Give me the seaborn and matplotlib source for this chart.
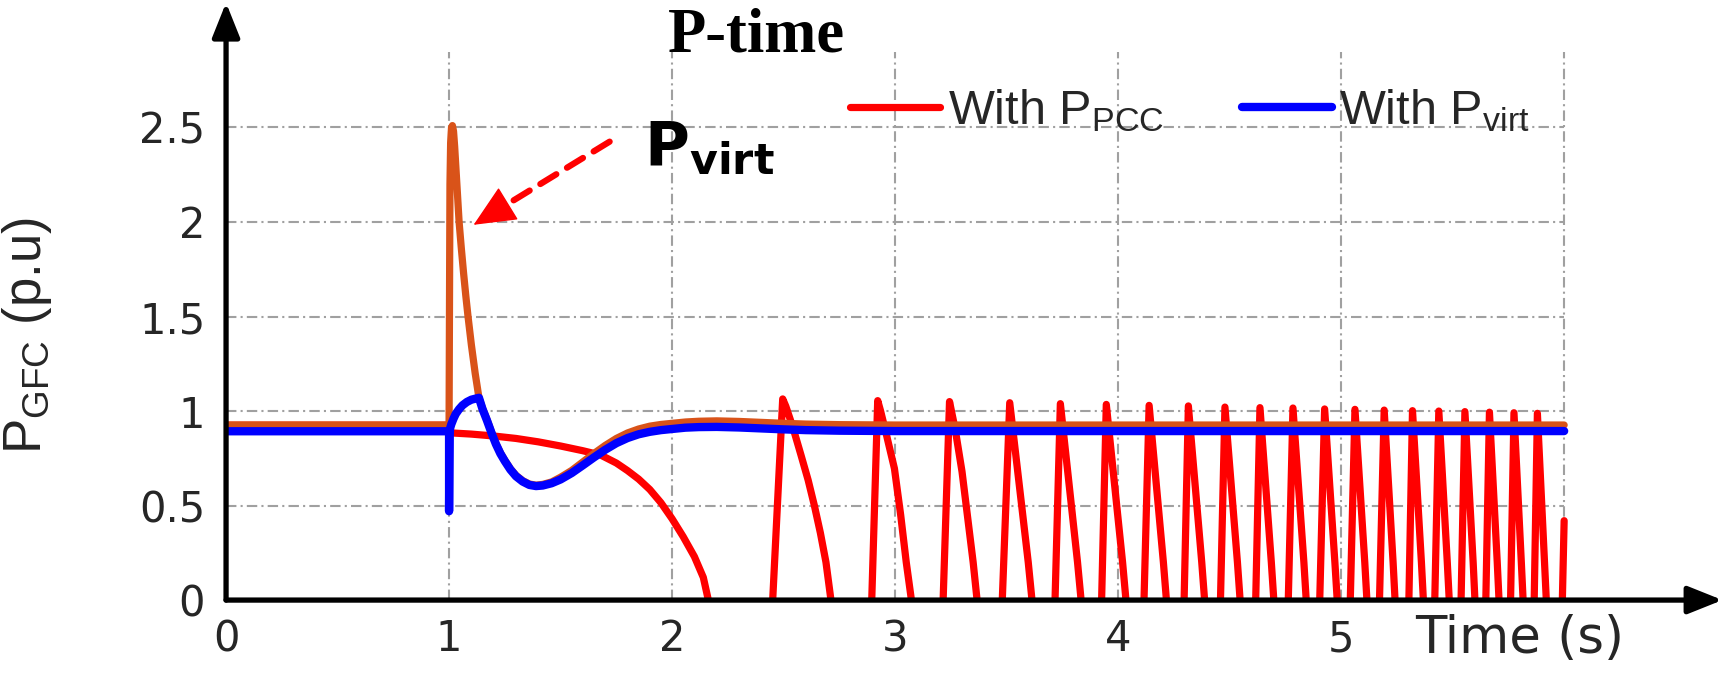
import matplotlib
matplotlib.use("Agg")
import matplotlib.pyplot as plt
import seaborn as sns

# P_GFC with P_PCC feedback (red); -0.05 = trough hidden under the time axis
red_time = [0, 1.0, 1.0, 1.1, 1.2, 1.3, 1.4, 1.5, 1.6, 1.68, 1.75, 1.8, 1.85, 1.9, 1.95,
            2.0, 2.05, 2.1, 2.14, 2.172,
            2.449, 2.496, 2.51, 2.53, 2.55, 2.578, 2.61, 2.638, 2.665, 2.69, 2.718,
            2.894, 2.922, 2.935, 2.96, 2.997, 3.025, 3.05, 3.079,
            3.214, 3.244, 3.27, 3.30, 3.35, 3.372,
            3.479, 3.514, 3.597, 3.618,
            3.716, 3.741, 3.818, 3.838,
            3.925, 3.947, 4.020, 4.039,
            4.115, 4.139, 4.203, 4.220,
            4.295, 4.315, 4.375, 4.391,
            4.458, 4.479, 4.535, 4.550,
            4.616, 4.636, 4.687, 4.701,
            4.762, 4.784, 4.833, 4.846,
            4.903, 4.926, 4.972, 4.985,
            5.040, 5.062, 5.106, 5.118,
            5.171, 5.193, 5.233, 5.244,
            5.303, 5.32, 5.36, 5.371,
            5.419, 5.438, 5.476, 5.487,
            5.537, 5.555, 5.592, 5.602,
            5.648, 5.665, 5.700, 5.710,
            5.759, 5.775, 5.808, 5.818,
            5.865, 5.88, 5.912, 5.922,
            5.991, 6.0]
red_p = [0.925, 0.925, 0.885, 0.878, 0.868, 0.855, 0.837, 0.815, 0.79, 0.767, 0.725, 0.685, 0.64, 0.585, 0.515,
         0.43, 0.335, 0.23, 0.12, -0.05,
         -0.05, 1.064, 1.025, 0.955, 0.88, 0.767, 0.635, 0.5, 0.355, 0.2, -0.05,
         -0.05, 1.055, 1.0, 0.88, 0.696, 0.45, 0.2, -0.05,
         -0.05, 1.05, 0.9, 0.68, 0.2, -0.05,
         -0.05, 1.044, 0.2, -0.05,
         -0.05, 1.039, 0.2, -0.05,
         -0.05, 1.035, 0.2, -0.05,
         -0.05, 1.03, 0.2, -0.05,
         -0.05, 1.027, 0.2, -0.05,
         -0.05, 1.021, 0.2, -0.05,
         -0.05, 1.018, 0.2, -0.05,
         -0.05, 1.016, 0.2, -0.05,
         -0.05, 1.011, 0.2, -0.05,
         -0.05, 1.009, 0.2, -0.05,
         -0.05, 1.005, 0.2, -0.05,
         -0.05, 1.002, 0.2, -0.05,
         -0.05, 1.0, 0.2, -0.05,
         -0.05, 0.997, 0.2, -0.05,
         -0.05, 0.994, 0.2, -0.05,
         -0.05, 0.991, 0.2, -0.05,
         -0.05, 0.988, 0.2, -0.05,
         -0.05, 0.42]

# virtual power P_virt (orange)
orange_time = [0, 1.0, 1.002, 1.004, 1.007, 1.011, 1.015, 1.02, 1.025, 1.03, 1.037, 1.045,
               1.055, 1.065, 1.075, 1.085, 1.1, 1.117, 1.134,
               1.15, 1.17, 1.19, 1.21, 1.23, 1.25, 1.275, 1.3, 1.33, 1.36, 1.39, 1.42, 1.46,
               1.5, 1.55, 1.6, 1.65, 1.7, 1.75, 1.8, 1.85, 1.9, 1.95, 2.0, 2.06, 2.12, 2.2,
               2.3, 2.4, 2.5, 2.6, 2.75, 3.0, 6.0]
orange_p = [0.926, 0.926, 1.6, 2.2, 2.42, 2.5, 2.51, 2.48, 2.40, 2.30, 2.16, 2.0,
            1.86, 1.73, 1.61, 1.5, 1.35, 1.2, 1.07,
            1.015, 0.955, 0.89, 0.83, 0.78, 0.74, 0.695, 0.66, 0.632, 0.614, 0.608, 0.612, 0.625,
            0.65, 0.686, 0.731, 0.776, 0.818, 0.855, 0.884, 0.905, 0.92, 0.929, 0.935, 0.942, 0.946, 0.948,
            0.945, 0.94, 0.935, 0.931, 0.928, 0.926, 0.926]

# P_GFC with P_virt feedback (blue)
blue_time = [0, 1.0, 1.0, 1.002, 1.005, 1.01, 1.02, 1.03, 1.045, 1.06, 1.08, 1.1, 1.12, 1.134,
             1.15, 1.17, 1.19, 1.21, 1.23, 1.25, 1.275, 1.3, 1.33, 1.36, 1.39, 1.42, 1.46,
             1.5, 1.55, 1.6, 1.65, 1.7, 1.75, 1.8, 1.85, 1.9, 1.95, 2.0, 2.06, 2.12, 2.2,
             2.3, 2.4, 2.5, 2.6, 2.75, 3.0, 6.0]
blue_p = [0.893, 0.893, 0.47, 0.88, 0.91, 0.93, 0.96, 0.985, 1.01, 1.03, 1.048, 1.06, 1.066, 1.07,
          1.01, 0.95, 0.885, 0.825, 0.775, 0.735, 0.69, 0.655, 0.627, 0.609, 0.603, 0.606, 0.618,
          0.638, 0.672, 0.713, 0.755, 0.795, 0.83, 0.857, 0.877, 0.89, 0.899, 0.905, 0.912, 0.915, 0.916,
          0.913, 0.908, 0.903, 0.899, 0.896, 0.894, 0.894]

x_ticks = [0, 1, 2, 3, 4, 5]
y_ticks = [0, 0.5, 1, 1.5, 2, 2.5]
y_tick_labels = ['0', '0.5', '1', '1.5', '2', '2.5']
x_grid = [1, 2, 3, 4, 5, 6]
y_grid = [0.5, 1, 1.5, 2, 2.5]

sns.set_theme(style="white")
plt.rcParams['font.family'] = ['DejaVu Sans']
plt.rcParams['mathtext.default'] = 'regular'

fig = plt.figure(figsize=(17.23, 6.75), dpi=100)
ax = fig.add_axes([0.1312, 0.111, 0.8685, 0.885])

# grid
grid_style = dict(color='#a0a0a0', lw=1.5, linestyle=(0, (5, 2, 1, 2)), zorder=1)
ax.hlines(y_grid, 0, 6, **grid_style)
ax.vlines(x_grid, 0, 2.9, **grid_style)

sns.lineplot(x=red_time, y=red_p, sort=False, estimator=None, color='#ff0000', lw=5.2, ax=ax, zorder=2)
red_line = ax.lines[-1]
sns.lineplot(x=orange_time, y=orange_p, sort=False, estimator=None, color='#d95319', lw=5.2, ax=ax, zorder=3)
sns.lineplot(x=blue_time, y=blue_p, sort=False, estimator=None, color='#0000ff', lw=6, ax=ax, zorder=4)
blue_line = ax.lines[-1]
for ln in ax.lines:
    ln.set_solid_joinstyle('round')

ax.set_xlim(0, 6.71)
ax.set_ylim(0, 3.16)
for s in ax.spines.values():
    s.set_visible(False)

ax.set_xticks(x_ticks)
ax.set_xticklabels([str(v) for v in x_ticks])
ax.set_yticks(y_ticks)
ax.set_yticklabels(y_tick_labels)
ax.tick_params(axis='both', direction='in', length=8, width=1.5, color='#444444',
               labelsize=30, labelcolor='#262626')
ax.tick_params(axis='y', pad=15)
ax.tick_params(axis='x', pad=13)

# arrow axes
arrow_kw = dict(arrowstyle='-|>,head_length=0.7,head_width=0.28', lw=3.8, color='black',
                shrinkA=0, shrinkB=0, mutation_scale=30)
ax.annotate('', xy=(1, 0), xytext=(0, 0), xycoords='axes fraction',
            arrowprops=arrow_kw, annotation_clip=False, zorder=6)
ax.annotate('', xy=(0, 1), xytext=(0, 0), xycoords='axes fraction',
            arrowprops=arrow_kw, annotation_clip=False, zorder=6)

ax.text(5.33, -0.206, 'Time (s)', ha='left', va='center', fontsize=37, color='#262626')
ax.set_ylabel(r'$P_{GFC}$ (p.u)', fontsize=38, family=['Liberation Sans'], color='#262626')
ax.yaxis.set_label_coords(-0.115, 0.443)

ax.text(2.38, 2.98, 'P-time', ha='center', va='center', fontsize=45, fontweight='bold',
        family=['Liberation Serif'], color='black')

# P_virt annotation: dashed shaft plus solid head
ax.annotate('', xy=(1.2, 2.05), xytext=(1.72, 2.425),
            arrowprops=dict(arrowstyle='-', color='#ff0000', lw=4.5, linestyle=(0, (3, 2)),
                            shrinkA=0, shrinkB=0), zorder=5)
ax.annotate('', xy=(1.11, 1.985), xytext=(1.2, 2.05),
            arrowprops=dict(arrowstyle='-|>,head_length=1.1,head_width=0.5', color='#ff0000',
                            lw=1, shrinkA=0, shrinkB=0, mutation_scale=25), zorder=5)
ax.text(1.875, 2.30, r'$\mathbf{P_{virt}}$', ha='left', va='baseline', fontsize=44, color='black')

ax.legend([red_line, blue_line], [r'With $P_{PCC}$', r'With $P_{virt}$'],
          loc='center left', bbox_to_anchor=(2.80, 2.59), bbox_transform=ax.transData,
          ncol=2, frameon=False, borderpad=0, borderaxespad=0, handlelength=1.85,
          handletextpad=0.15, columnspacing=1.6, prop={'family': 'Liberation Sans', 'size': 35})

fig.savefig('out.png', dpi=100)
